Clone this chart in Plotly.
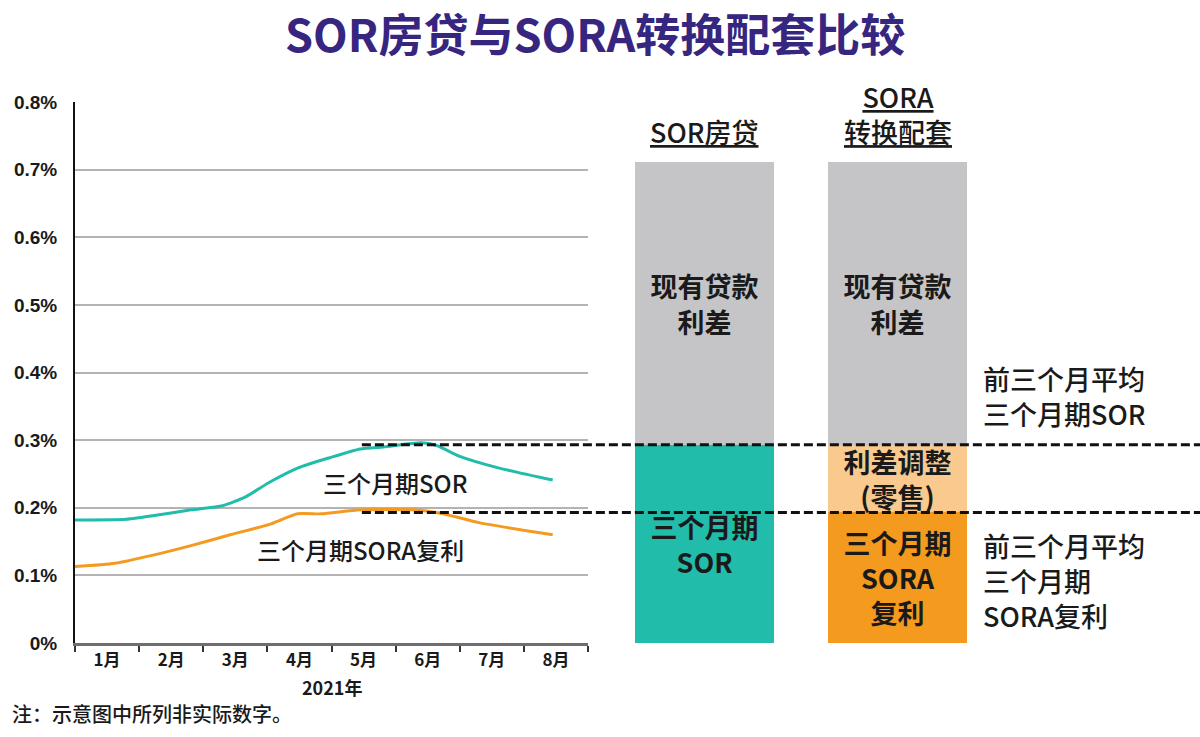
import plotly.graph_objects as go

# ── Data ───────────────────────────────────────────────────────────────────────

MONTHS = ["1月", "2月", "3月", "4月", "5月", "6月", "7月", "8月"]
MONTH_POS = [0.5, 1.5, 2.5, 3.5, 4.5, 5.5, 6.5, 7.5]

# three-month SOR (teal line), x in month units from start of Jan
SOR_X = [0, 0.8, 1.34, 1.81, 2.3, 2.66, 3.02, 3.48, 3.97, 4.45, 4.81, 5.4, 5.64, 6.0, 6.6, 7.45]
SOR_Y = [0.182, 0.183, 0.190, 0.197, 0.203, 0.216, 0.237, 0.259, 0.274, 0.287, 0.290, 0.296,
         0.292, 0.276, 0.259, 0.241]

# three-month compounded SORA (orange line)
SORA_X = [0, 0.625, 1.22, 1.81, 2.42, 3.02, 3.47, 3.84, 4.45, 5.28, 5.7, 6.3, 7.45]
SORA_Y = [0.113, 0.118, 0.130, 0.144, 0.160, 0.175, 0.191, 0.191, 0.197, 0.197, 0.192, 0.178, 0.160]

# previous three-month averages (dashed reference lines)
AVG_SOR = 0.293
AVG_SORA = 0.193
LOAN_TOP = 0.711

BAR_CATS = ["SOR房贷", "SORA转换配套"]
BAR_BASE = [AVG_SOR, AVG_SORA]
BAR_ADJ = [0, AVG_SOR - AVG_SORA]
BAR_SPREAD = [LOAN_TOP - AVG_SOR, LOAN_TOP - AVG_SOR]

BASE_TEXT = ["三个月期<br>SOR", "三个月期<br>SORA<br>复利"]
ADJ_TEXT = ["", "利差调整<br>(零售)"]
SPREAD_TEXT = ["现有贷款<br>利差", "现有贷款<br>利差"]

Y_TICKS = [0, 0.1, 0.2, 0.3, 0.4, 0.5, 0.6, 0.7, 0.8]
Y_LABELS = ["0%", "0.1%", "0.2%", "0.3%", "0.4%", "0.5%", "0.6%", "0.7%", "0.8%"]

# ── Style ──────────────────────────────────────────────────────────────────────

TEAL = "#22bcab"
ORANGE = "#f39a1f"
LIGHT_ORANGE = "#f9c98e"
GREY_BAR = "#c5c5c7"
PURPLE = "#37267f"
INK = "#1a1a1a"
CJK = "Noto Sans CJK SC"
LATIN = "Liberation Sans"


def cjk(size, weight=500, color=INK):
    return dict(family=CJK, size=size, color=color, weight=weight)


fig = go.Figure()

fig.add_trace(go.Scatter(
    x=SOR_X, y=SOR_Y, mode="lines", line=dict(color=TEAL, width=3, shape="spline", smoothing=0.6),
    xaxis="x", yaxis="y", showlegend=False, hoverinfo="skip",
))
fig.add_trace(go.Scatter(
    x=SORA_X, y=SORA_Y, mode="lines", line=dict(color=ORANGE, width=3, shape="spline", smoothing=0.6),
    xaxis="x", yaxis="y", showlegend=False, hoverinfo="skip",
))

for vals, txt, cols in [
    (BAR_BASE, BASE_TEXT, [TEAL, ORANGE]),
    (BAR_ADJ, ADJ_TEXT, [LIGHT_ORANGE, LIGHT_ORANGE]),
    (BAR_SPREAD, SPREAD_TEXT, [GREY_BAR, GREY_BAR]),
]:
    fig.add_trace(go.Bar(
        x=[0, 1], y=vals, width=0.72, marker=dict(color=cols, line_width=0),
        text=txt, textposition="inside", insidetextanchor="middle",
        textfont=cjk(27, 700), constraintext="none",
        xaxis="x2", yaxis="y2", showlegend=False, hoverinfo="skip",
    ))

# dashed reference lines
for v in [AVG_SOR, AVG_SORA]:
    fig.add_shape(type="line", xref="paper", yref="y", x0=0.255, x1=1.0, y0=v, y1=v,
                  line=dict(color="#111", width=3, dash="9px,4px"), layer="above")

annotations = [
    dict(text="三个月期SOR", x=5.0, y=0.237, xref="x", yref="y", showarrow=False, font=cjk(24)),
    dict(text="三个月期SORA复利", x=4.45, y=0.139, xref="x", yref="y", showarrow=False, font=cjk(24)),
    dict(text="<u>SOR房贷</u>", x=0, y=0.757, xref="x2", yref="y2", showarrow=False, font=cjk(27)),
    dict(text="<u>SORA</u><br><u>转换配套</u>", x=1, y=0.783, xref="x2", yref="y2",
         showarrow=False, font=cjk(27)),
    dict(text="前三个月平均<br>三个月期SOR", x=0.805, y=0.365, xref="paper", yref="y",
         xanchor="left", align="left", showarrow=False, font=cjk(27)),
    dict(text="前三个月平均<br>三个月期<br>SORA复利", x=0.805, y=0.093, xref="paper", yref="y",
         xanchor="left", align="left", showarrow=False, font=cjk(27)),
    dict(text="2021年", x=0.228, y=-0.081, xref="paper", yref="paper",
         xanchor="center", yanchor="middle", showarrow=False, font=cjk(18, 600)),
    dict(text="注：示意图中所列非实际数字。", x=-0.058, y=-0.13, xref="paper", yref="paper",
         xanchor="left", yanchor="middle", showarrow=False, font=cjk(20)),
]

fig.update_layout(
    width=1200, height=737,
    paper_bgcolor="white", plot_bgcolor="rgba(0,0,0,0)",
    margin=dict(l=75, r=0, t=102, b=94),
    barmode="stack",
    title=dict(text="SOR房贷与SORA转换配套比较", x=0.496, xanchor="center",
               y=0.951, yanchor="middle", yref="container", font=cjk(45, 700, PURPLE)),
    xaxis=dict(domain=[0, 0.456], range=[0, 8], tickvals=MONTH_POS, ticktext=MONTHS,
               ticks="", showgrid=False, zeroline=False,
               showline=True, linecolor="#6e6e6e", linewidth=3,
               tickfont=cjk(17, 600),
               minor=dict(tick0=0, dtick=1, ticks="outside", ticklen=6, tickwidth=2,
                          tickcolor="#333", showgrid=False),
               fixedrange=True),
    yaxis=dict(range=[0, 0.8], tickvals=Y_TICKS, ticktext=Y_LABELS, showgrid=True,
               gridcolor="#b3b3b3", gridwidth=2, zeroline=False,
               showline=True, linecolor="#111", linewidth=2, ticks="",
               ticklabelstandoff=12,
               tickfont=dict(family=LATIN, size=19, color=INK, weight=700),
               fixedrange=True),
    xaxis2=dict(domain=[0, 1], anchor="y2", range=[-3.262, 2.567], visible=False,
                fixedrange=True),
    yaxis2=dict(domain=[0, 1], anchor="x2", range=[0, 0.8], visible=False,
                fixedrange=True),
    annotations=annotations,
)

fig.write_html("out.html", config={"displayModeBar": False},
               post_script="document.body.style.margin='0';")
